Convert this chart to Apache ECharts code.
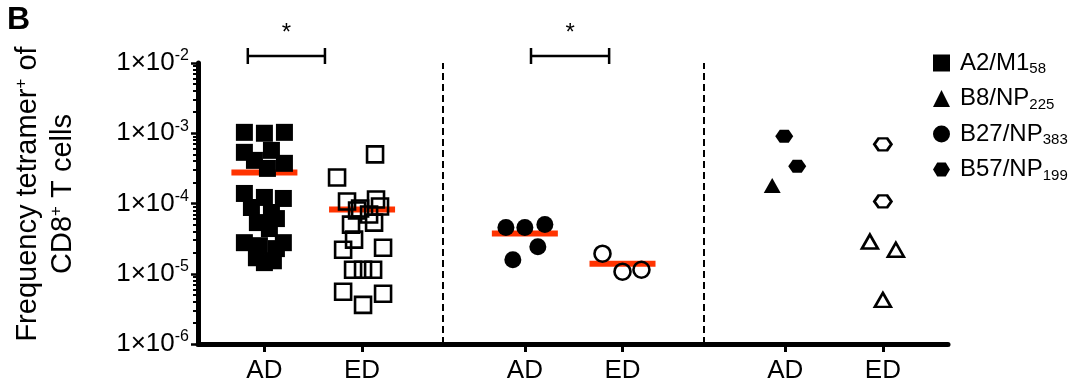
<!DOCTYPE html>
<html><head><meta charset="utf-8">
<script src="https://cdn.jsdelivr.net/npm/echarts@6/dist/echarts.min.js"></script>
<style>html,body{margin:0;padding:0;background:#fff}#c{width:1079px;height:389px}</style>
</head><body><div id="c"></div>
<script>
// ---------- data ----------
const categories = ['AD', 'ED', 'AD', 'ED', 'AD', 'ED'];
const decadeExponents = [-6, -5, -4, -3, -2];
// [horizontal jitter within the column, frequency]
const a2AD = [[-0.205,1.03e-3],[0,1.0e-3],[0.205,1.03e-3],[-0.205,5.35e-4],[0.072,5.71e-4],[-0.102,4.11e-4],
  [0.031,3.16e-4],[0.205,3.73e-4],[-0.205,1.39e-4],[0,1.22e-4],[0.194,1.18e-4],[-0.133,8.77e-5],[0.072,7.44e-5],
  [-0.072,5.35e-5],[0.123,6.1e-5],[0.051,4.4e-5],[-0.205,2.77e-5],[-0.051,2.51e-5],[0.194,2.77e-5],[0.123,2.28e-5],
  [-0.082,1.69e-5],[0,1.44e-5],[0.092,1.53e-5]];
const a2ED = [[0.133,5.01e-4],[-0.256,2.35e-4],[-0.154,1.07e-4],[-0.051,7.94e-5],[0.143,1.14e-4],[0.184,9.06e-5],
  [-0.02,8.49e-5],[0.072,6.96e-5],[-0.113,5.01e-5],[0.123,5.35e-5],[-0.082,3.06e-5],[-0.194,2.2e-5],[0.215,2.35e-5],
  [-0.092,1.14e-5],[0.01,1.14e-5],[0.113,1.14e-5],[-0.194,5.53e-6],[0.215,5.18e-6],[0.01,3.61e-6]];
const b27AD = [[-0.194,4.54e-5],[0,4.54e-5],[0.205,5.01e-5],[0.133,2.43e-5],[-0.123,1.58e-5]];
const b27ED = [[-0.205,1.93e-5],[0,1.07e-5],[0.194,1.14e-5]];
const b57AD = [[-0.01,9.06e-4],[0.123,3.38e-4]];
const b8AD = [[-0.133,1.81e-4]];
const b57ED = [[0,6.96e-4],[0,1.07e-4]];
const b8ED = [[-0.133,2.87e-5],[0.133,2.2e-5],[0,4.25e-6]];
const medians = [2.77e-4, 8.2e-5, 3.73e-5, 1.39e-5];
const sigBrackets = [[0.83, 1.62], [3.73, 4.53]];
const sigLabels = ['*', '*'];
const legendNames = ['A2/M1_58', 'B8/NP_225', 'B27/NP_383', 'B57/NP_199'];

// ---------- layout ----------
const groupPos = [1, 2, 3.667, 4.667, 6.333, 7.333];
const separators = [(groupPos[1] + groupPos[2]) / 2, (groupPos[3] + groupPos[4]) / 2];
const FONT = "'Liberation Sans', Arial, Helvetica, sans-serif";
const hexPath = 'path://M0,5L3,0L9,0L12,5L9,10L3,10Z';
const filled = { color: '#000', opacity: 1 };
const open = { color: 'rgba(0,0,0,0)', borderColor: '#000', borderWidth: 2.6, opacity: 1 };
const minorTicks = [];
decadeExponents.slice(0, -1).forEach(e => { for (let m = 2; m <= 9; m++) minorTicks.push(e + Math.log10(m)); });

function pts(g, arr) { return arr.map(d => [groupPos[g] + d[0], d[1]]); }
function sc(name, g, arr, symbol, size, style, extra) {
  return Object.assign({ name, type: 'scatter', data: pts(g, arr), symbol, symbolSize: size,
    itemStyle: style, z: 3, emphasis: { disabled: true }, silent: true }, extra || {});
}

const chart = echarts.init(document.getElementById('c'), null, { renderer: 'canvas' });
const gridBox = { left: 198, right: 131, top: 63, bottom: 45 };

const option = {
  animation: false,
  backgroundColor: '#fff',
  textStyle: { fontFamily: FONT },
  grid: [Object.assign({}, gridBox), Object.assign({}, gridBox)],
  xAxis: [{
    type: 'value', gridIndex: 0, min: 0.32, max: 8,
    splitLine: { show: false },
    axisLine: { onZero: false, lineStyle: { color: '#000', width: 5 } },
    axisTick: { customValues: groupPos, length: 8, lineStyle: { color: '#000', width: 3 } },
    axisLabel: {
      customValues: groupPos, margin: 14, color: '#000', fontSize: 26, fontFamily: FONT,
      formatter: v => { const i = groupPos.findIndex(p => Math.abs(p - v) < 1e-6); return i >= 0 ? categories[i] : ''; }
    }
  }, { type: 'value', gridIndex: 1, min: 0.32, max: 8, show: false }],
  yAxis: [{
    type: 'log', logBase: 10, gridIndex: 0, min: Math.pow(10, decadeExponents[0]), max: Math.pow(10, decadeExponents[decadeExponents.length - 1]),
    splitLine: { show: false },
    axisLine: { show: true, onZero: false, lineStyle: { color: '#000', width: 5 } },
    axisTick: { show: true, length: 7, lineStyle: { color: '#000', width: 2.5 } },
    axisLabel: {
      margin: 9, color: '#000',
      formatter: v => '{b|1×10}{s|' + Math.round(Math.log10(v)) + '}',
      rich: {
        b: { fontSize: 26, lineHeight: 30, color: '#000', fontFamily: FONT },
        s: { fontSize: 16, lineHeight: 16, verticalAlign: 'top', color: '#000', fontFamily: FONT }
      }
    }
  }, {
    type: 'value', gridIndex: 1, position: 'left', min: decadeExponents[0], max: decadeExponents[decadeExponents.length - 1],
    splitLine: { show: false }, axisLine: { show: false, onZero: false }, axisLabel: { show: false },
    axisTick: { show: true, customValues: minorTicks, length: 5, lineStyle: { color: '#000', width: 2 } }
  }],
  legend: {
    orient: 'vertical', left: 933, top: 51, itemWidth: 17, itemHeight: 17, itemGap: 10,
    selectedMode: false, padding: 0,
    data: [
      { name: legendNames[0], icon: 'rect' },
      { name: legendNames[1], icon: 'triangle' },
      { name: legendNames[2], icon: 'circle' },
      { name: legendNames[3], icon: hexPath }
    ],
    formatter: n => { const p = n.split('_'); return '{m|' + p[0] + '}{s|' + p[1] + '}'; },
    textStyle: {
      color: '#000',
      rich: {
        m: { fontSize: 24, lineHeight: 27, color: '#000', fontFamily: FONT, padding: [0, 0, 0, 5] },
        s: { fontSize: 15, lineHeight: 15, verticalAlign: 'bottom', color: '#000', fontFamily: FONT }
      }
    }
  },
  graphic: [
    { type: 'text', left: 7, top: 4, style: { text: 'B', font: 'bold 32px ' + FONT, fill: '#000' } },
    { type: 'text', x: 45, y: 194, rotation: Math.PI / 2,
      style: {
        text: '{t|Frequency tetramer}{p|+}{t| of}\n{t|CD8}{p|+}{t| T cells}',
        align: 'center', verticalAlign: 'middle', fill: '#000',
        rich: {
          t: { fontSize: 29, lineHeight: 35, fontFamily: FONT, fill: '#000' },
          p: { fontSize: 17, lineHeight: 35, verticalAlign: 'top', fontFamily: FONT, fill: '#000', padding: [3, 0, 0, 0] }
        }
      } }
  ],
  series: [
    {
      name: 'medians', type: 'custom', z: 1, silent: true,
      data: medians.map((m, i) => [groupPos[i], m]),
      renderItem: (params, api) => {
        const p = api.coord([api.value(0), api.value(1)]);
        return { type: 'line', shape: { x1: p[0] - 33, y1: p[1], x2: p[0] + 33, y2: p[1] },
          style: { stroke: '#FF3300', lineWidth: 6 } };
      },
      markLine: {
        silent: true, symbol: ['none', 'none'], label: { show: false },
        lineStyle: { type: [7, 4], width: 2, color: '#000' },
        data: separators.map(x => ({ xAxis: x }))
      }
    },
    {
      name: 'sig', type: 'custom', z: 4, silent: true, clip: false,
      data: sigBrackets.map(b => [b[0], b[1]]),
      encode: { x: [0, 1] },
      renderItem: (params, api) => {
        const top = Math.pow(10, decadeExponents[decadeExponents.length - 1]);
        const a = api.coord([api.value(0), top]);
        const b = api.coord([api.value(1), top]);
        const y = a[1];
        const st = { stroke: '#000', lineWidth: 2.5 };
        return { type: 'group', children: [
          { type: 'line', shape: { x1: a[0], y1: y - 7, x2: b[0], y2: y - 7 }, style: st },
          { type: 'line', shape: { x1: a[0], y1: y - 15, x2: a[0], y2: y + 1 }, style: st },
          { type: 'line', shape: { x1: b[0], y1: y - 15, x2: b[0], y2: y + 1 }, style: st },
          { type: 'text', x: (a[0] + b[0]) / 2, y: y - 30,
            style: { text: sigLabels[params.dataIndex], font: '24px ' + FONT, fill: '#000', align: 'center', verticalAlign: 'middle' } }
        ] };
      }
    },
    sc(legendNames[0], 0, a2AD, 'rect', 17, filled),
    sc('A2/M1 ED', 1, a2ED, 'rect', 16, open),
    sc(legendNames[2], 2, b27AD, 'circle', 17, filled),
    sc('B27/NP ED', 3, b27ED, 'circle', 16, open),
    sc(legendNames[3], 4, b57AD, hexPath, [18, 13], filled),
    sc(legendNames[1], 4, b8AD, 'triangle', [17, 15], filled),
    sc('B57/NP ED', 5, b57ED, hexPath, [17, 12], open),
    sc('B8/NP ED', 5, b8ED, 'triangle', [16, 14], open)
  ]
};
chart.setOption(option);
</script></body></html>
